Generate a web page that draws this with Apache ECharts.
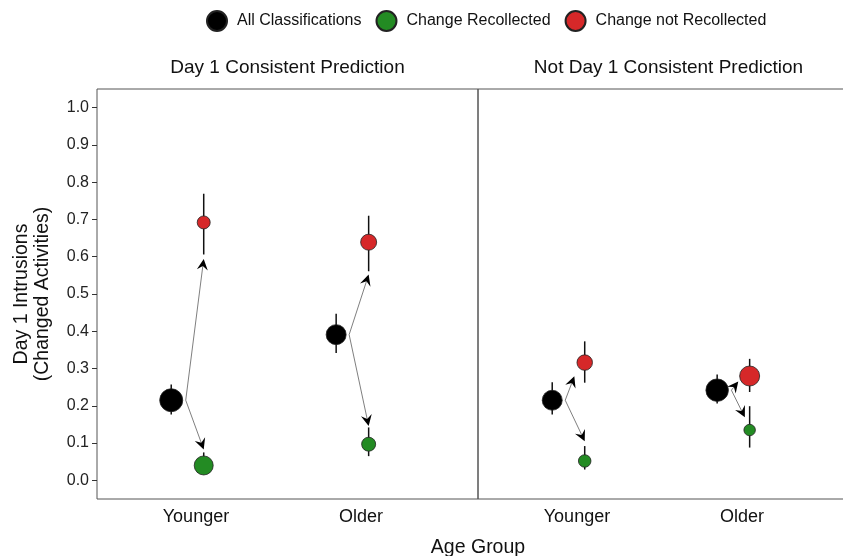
<!DOCTYPE html>
<html>
<head>
<meta charset="utf-8">
<script src="https://cdn.jsdelivr.net/npm/echarts@6/dist/echarts.min.js"></script>
<style>
html, body { margin: 0; background: #fff; }
#chart { width: 843px; height: 556px; }
</style>
</head>
<body>
<div id="chart"></div>
<script>
// facets and x categories
var panels = ['Day 1 Consistent Prediction', 'Not Day 1 Consistent Prediction'];
var ageGroups = ['Younger', 'Older'];
var yTicks = [0, 0.1, 0.2, 0.3, 0.4, 0.5, 0.6, 0.7, 0.8, 0.9, 1.0];

// per panel: [Younger, Older]
var allMean = [[0.215, 0.391], [0.215, 0.242]];
var allLo   = [[0.177, 0.342], [0.177, 0.206]];
var allHi   = [[0.257, 0.447], [0.263, 0.284]];
var allN    = [[23, 20], [20, 22.5]];

var recMean = [[0.040, 0.097], [0.052, 0.135]];
var recLo   = [[0.018, 0.065], [0.029, 0.088]];
var recHi   = [[0.075, 0.142], [0.092, 0.199]];
var recN    = [[19, 14], [12.5, 11.5]];

var notMean = [[0.692, 0.639], [0.316, 0.280]];
var notLo   = [[0.606, 0.561], [0.262, 0.237]];
var notHi   = [[0.769, 0.710], [0.373, 0.326]];
var notN    = [[13, 16], [15.5, 20]];

// arrow tips (data coords)
var upTipX   = [[1.047, 2.047], [0.984, 1.978]];
var upTipY   = [[0.594, 0.552], [0.279, 0.265]];
var downTipX = [[1.047, 2.047], [1.047, 2.018]];
var downTipY = [[0.083, 0.146], [0.105, 0.169]];

var names = ['All Classifications', 'Change Recollected', 'Change not Recollected'];
var colors = ['#000000', '#238b23', '#d62829'];
var dxAll = -0.15, dxSub = 0.047;
var font = 'Liberation Sans, Arial, sans-serif';

var chart = echarts.init(document.getElementById('chart'));

var grids = [], xAxes = [], yAxes = [], series = [];
for (var p = 0; p < 2; p++) {
    grids.push({
        left: 97 + p * 381, top: 89, width: 381, height: 410,
        outerBoundsMode: 'none', containLabel: false,
        show: true, borderColor: '#555', borderWidth: 1
    });
    xAxes.push({
        type: 'value', gridIndex: p, min: 0.4, max: 2.71,
        axisLine: { show: false }, axisTick: { show: false }, splitLine: { show: false },
        axisLabel: {
            customValues: [1, 2], margin: 9,
            formatter: function (v) { return ageGroups[Math.round(v) - 1]; },
            fontFamily: font, fontSize: 18, color: '#111'
        }
    });
    yAxes.push({
        type: 'value', gridIndex: p, min: -0.05, max: 1.05,
        axisLine: { show: false }, splitLine: { show: false },
        axisTick: { show: p === 0, customValues: yTicks, length: 5, lineStyle: { color: '#333' } },
        axisLabel: {
            show: p === 0, customValues: yTicks, margin: 8,
            formatter: function (v) { return v.toFixed(1); },
            fontFamily: font, fontSize: 16, color: '#222'
        }
    });

    var bars = [], arrows = [];
    var pts = [[], [], []];
    for (var g = 0; g < 2; g++) {
        var xa = g + 1 + dxAll, xs = g + 1 + dxSub;
        bars.push([xa, allLo[p][g], allHi[p][g]]);
        bars.push([xs, recLo[p][g], recHi[p][g]]);
        bars.push([xs, notLo[p][g], notHi[p][g]]);
        arrows.push([xa, allMean[p][g], upTipX[p][g], upTipY[p][g], allN[p][g]]);
        arrows.push([xa, allMean[p][g], downTipX[p][g], downTipY[p][g], allN[p][g]]);
        pts[0].push([xa, allMean[p][g], allN[p][g]]);
        pts[1].push([xs, recMean[p][g], recN[p][g]]);
        pts[2].push([xs, notMean[p][g], notN[p][g]]);
    }

    series.push({
        type: 'custom', xAxisIndex: p, yAxisIndex: p, z: 2, silent: true,
        data: bars,
        renderItem: function (params, api) {
            var a = api.coord([api.value(0), api.value(1)]);
            var b = api.coord([api.value(0), api.value(2)]);
            return { type: 'line', shape: { x1: a[0], y1: a[1], x2: b[0], y2: b[1] },
                     style: { stroke: '#111', lineWidth: 1.5 } };
        }
    });
    series.push({
        type: 'custom', xAxisIndex: p, yAxisIndex: p, z: 3, silent: true,
        data: arrows,
        renderItem: function (params, api) {
            var c0 = api.coord([api.value(0), api.value(1)]);
            var x0 = c0[0] + api.value(4) / 2 + 3, y0 = c0[1];
            var c1 = api.coord([api.value(2), api.value(3)]);
            var dx = c1[0] - x0, dy = c1[1] - y0, len = Math.sqrt(dx * dx + dy * dy);
            var ux = dx / len, uy = dy / len, nx = -uy, ny = ux;
            var L = 11, W = 5.5, N = 7;
            var bx = c1[0] - ux * L, by = c1[1] - uy * L;
            var mx = c1[0] - ux * N, my = c1[1] - uy * N;
            return { type: 'group', children: [
                { type: 'line', shape: { x1: x0, y1: y0, x2: mx, y2: my },
                  style: { stroke: '#707070', lineWidth: 0.9 } },
                { type: 'polygon', shape: { points: [[c1[0], c1[1]], [bx + nx * W, by + ny * W], [mx, my], [bx - nx * W, by - ny * W]] },
                  style: { fill: '#000' } }
            ] };
        }
    });
    for (var k = 0; k < 3; k++) {
        series.push({
            name: names[k], type: 'scatter', xAxisIndex: p, yAxisIndex: p, z: 4,
            data: pts[k],
            symbolSize: function (v) { return v[2]; },
            itemStyle: { color: colors[k], borderColor: '#222', borderWidth: 0.8, opacity: 1 }
        });
    }
}

var option = {
    animation: false,
    backgroundColor: '#fff',
    legend: {
        left: 201, top: 5,
        itemWidth: 20, itemHeight: 20, itemGap: 14,
        data: names.map(function (n) { return { name: n, icon: 'circle' }; }),
        textStyle: { fontFamily: font, fontSize: 16, color: '#111', padding: [0, 0, 0, 5] }
    },
    grid: grids,
    xAxis: xAxes,
    yAxis: yAxes,
    series: series,
    graphic: [
        { type: 'text', x: 287.5, y: 68, style: { text: panels[0], font: '19px ' + font, fill: '#111', align: 'center', verticalAlign: 'middle' } },
        { type: 'text', x: 668.5, y: 68, style: { text: panels[1], font: '19px ' + font, fill: '#111', align: 'center', verticalAlign: 'middle' } },
        { type: 'text', x: 478, y: 548, style: { text: 'Age Group', font: '19.5px ' + font, fill: '#111', align: 'center', verticalAlign: 'middle' } },
        { type: 'text', x: 32, y: 294, rotation: Math.PI / 2,
          style: { text: 'Day 1 Intrusions\n(Changed Activities)', font: '19.5px ' + font, lineHeight: 21, fill: '#111', align: 'center', verticalAlign: 'middle' } }
    ]
};
chart.setOption(option);
</script>
</body>
</html>
